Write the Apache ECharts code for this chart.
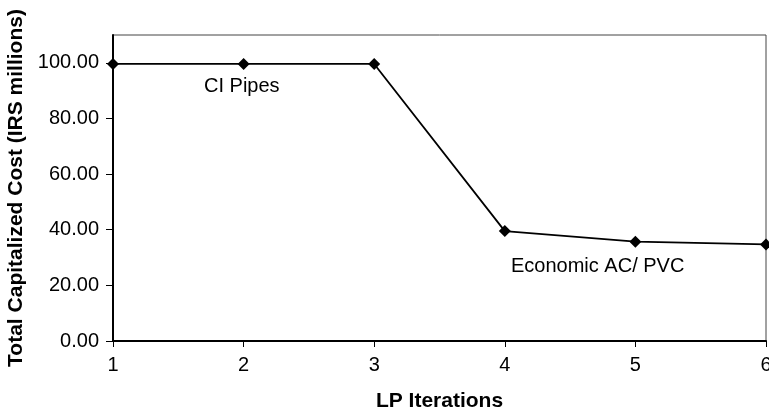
<!DOCTYPE html>
<html>
<head>
<meta charset="utf-8">
<script src="https://cdn.jsdelivr.net/npm/echarts@6/dist/echarts.min.js"></script>
<style>
  html, body { margin: 0; padding: 0; background: #fff; }
  #chart { width: 769px; height: 411px; }
</style>
</head>
<body>
<div id="chart"></div>
<script>
// LP iteration numbers and the total capitalized cost at each one
const iterations = ['1', '2', '3', '4', '5', '6'];
const totalCost = [99.6, 99.6, 99.6, 39.5, 35.7, 34.7];
const yTicks = [0, 20, 40, 60, 80, 100];

const FONT = '"Liberation Sans", Arial, Helvetica, sans-serif';

const chart = echarts.init(document.getElementById('chart'));
chart.setOption({
  backgroundColor: '#fff',
  animation: false,
  grid: {
    left: 113, right: 3, top: 35, bottom: 70,
    outerBoundsMode: 'none',
    containLabel: false,
    show: true, borderColor: '#444', borderWidth: 1
  },
  xAxis: {
    type: 'category',
    data: iterations,
    boundaryGap: false,
    name: 'LP Iterations',
    nameLocation: 'middle',
    nameGap: 50,
    nameTextStyle: { fontFamily: FONT, fontSize: 21, fontWeight: 'bold', color: '#000' },
    axisLine: { lineStyle: { color: '#000', width: 2 } },
    axisTick: { show: true, length: 6, alignWithLabel: true, lineStyle: { color: '#000' } },
    axisLabel: { fontFamily: FONT, fontSize: 20, color: '#000', margin: 14 },
    splitLine: { show: false }
  },
  yAxis: {
    type: 'value',
    min: 0,
    max: 110,
    interval: 20,
    name: 'Total Capitalized Cost (IRS millions)',
    nameLocation: 'middle',
    nameGap: 86,
    nameTextStyle: { fontFamily: FONT, fontSize: 21, fontWeight: 'bold', color: '#000' },
    axisLine: { show: true, lineStyle: { color: '#000', width: 2 } },
    axisTick: { show: true, length: 7, lineStyle: { color: '#000' } },
    axisLabel: {
      fontFamily: FONT, fontSize: 20, color: '#000', margin: 14,
      showMaxLabel: false,
      formatter: v => (yTicks.includes(v) ? v.toFixed(2) : '')
    },
    splitLine: { show: false }
  },
  series: [{
    type: 'line',
    data: totalCost,
    symbol: 'diamond',
    symbolSize: 12,
    lineStyle: { color: '#000', width: 1.8 },
    itemStyle: { color: '#000' },
    label: { show: false }
  }],
  graphic: [
    {
      type: 'text', left: 204, top: 76,
      style: { text: 'CI Pipes', font: '20px ' + FONT, fill: '#000' }
    },
    {
      type: 'text', left: 511, top: 256,
      style: { text: 'Economic AC/ PVC', font: '20px ' + FONT, fill: '#000' }
    }
  ]
});
</script>
</body>
</html>
